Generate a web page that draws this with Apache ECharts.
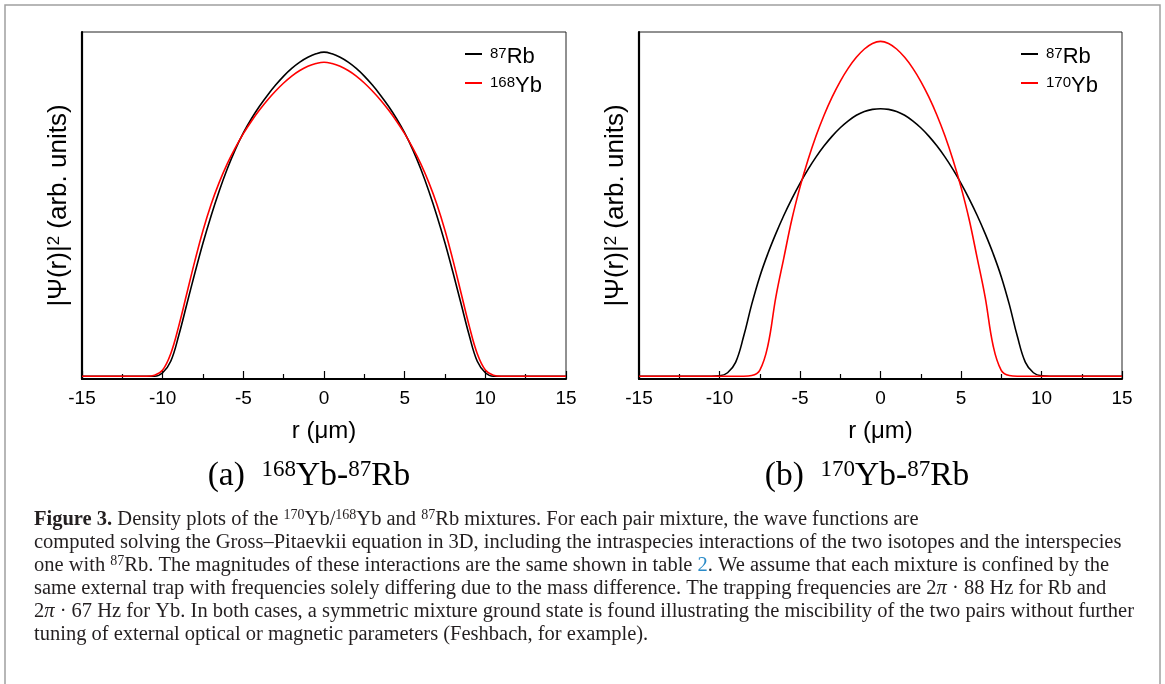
<!DOCTYPE html>
<html><head><meta charset="utf-8">
<script src="https://cdn.jsdelivr.net/npm/echarts@6/dist/echarts.min.js"></script>
<style>html,body{margin:0;padding:0;background:#fff}#c{width:1165px;height:684px}</style>
</head><body><div id="c"></div>
<script>
// radial position r (µm)
const r = [-15,-14,-13,-12,-11,-10.5,-10,-9.5,-9,-8.5,-8,-7.5,-7,-6.5,-6,-5.5,-5,-4.5,-4,-3.5,-3,-2.5,-2,-1.5,-1,-0.5,0,
  0.5,1,1.5,2,2.5,3,3.5,4,4.5,5,5.5,6,6.5,7,7.5,8,8.5,9,9.5,10,10.5,11,12,13,14,15];
// panel (a): 168Yb-87Rb
const rb87_a = [0.008,0.008,0.008,0.008,0.008,0.008,0.018,0.051,0.126,0.216,0.306,0.392,0.470,0.541,0.605,0.661,0.709,0.750,0.786,0.818,0.847,0.873,0.895,0.913,0.927,0.937,0.942,
  0.937,0.927,0.913,0.895,0.873,0.847,0.818,0.786,0.750,0.709,0.661,0.605,0.541,0.470,0.392,0.306,0.216,0.126,0.051,0.018,0.008,0.008,0.008,0.008,0.008,0.008];
const yb168_a = [0.008,0.008,0.008,0.008,0.008,0.011,0.026,0.073,0.153,0.247,0.341,0.428,0.503,0.566,0.620,0.666,0.707,0.743,0.775,0.804,0.830,0.853,0.873,0.889,0.901,0.909,0.913,
  0.909,0.901,0.889,0.873,0.853,0.830,0.804,0.775,0.743,0.707,0.666,0.620,0.566,0.503,0.428,0.341,0.247,0.153,0.073,0.026,0.011,0.008,0.008,0.008,0.008,0.008];
// panel (b): 170Yb-87Rb
const rb87_b = [0.008,0.008,0.008,0.008,0.008,0.008,0.009,0.018,0.048,0.123,0.215,0.295,0.361,0.419,0.472,0.520,0.564,0.604,0.640,0.672,0.700,0.724,0.744,0.760,0.771,0.777,0.779,
  0.777,0.771,0.760,0.744,0.724,0.700,0.672,0.640,0.604,0.564,0.520,0.472,0.419,0.361,0.295,0.215,0.123,0.048,0.018,0.009,0.008,0.008,0.008,0.008,0.008,0.008];
const yb170_b = [0.008,0.008,0.008,0.008,0.008,0.008,0.008,0.008,0.008,0.008,0.010,0.025,0.095,0.236,0.350,0.461,0.553,0.632,0.701,0.761,0.813,0.858,0.896,0.927,0.951,0.967,0.973,
  0.967,0.951,0.927,0.896,0.858,0.813,0.761,0.701,0.632,0.553,0.461,0.350,0.236,0.095,0.025,0.010,0.008,0.008,0.008,0.008,0.008,0.008,0.008,0.008,0.008,0.008];
const xTickMin = -15, xTickMax = 15, xTickStep = 5;
const legendA = ['Rb87a','Yb168'];
const legendB = ['Rb87b','Yb170'];
const legendText = {Rb87a:'{s|87}{m|Rb}', Yb168:'{s|168}{m|Yb}', Rb87b:'{s|87}{m|Rb}', Yb170:'{s|170}{m|Yb}'};

const SANS = 'Liberation Sans', SERIF = 'Liberation Serif';
const chart = echarts.init(document.getElementById('c'), null, {renderer:'canvas'});

function xAx(g){
  return {type:'value', gridIndex:g, min:xTickMin, max:xTickMax, interval:xTickStep,
    axisLine:{show:true, onZero:false, lineStyle:{color:'#000', width:2.2}},
    axisTick:{show:true, inside:true, length:8, lineStyle:{color:'#000', width:1.2}},
    minorTick:{show:true, splitNumber:2, length:5, lineStyle:{color:'#000', width:1.2}},
    splitLine:{show:false}, minorSplitLine:{show:false},
    axisLabel:{color:'#000', fontSize:19, fontFamily:SANS, margin:10},
    name:'r (μm)', nameLocation:'middle', nameGap:40,
    nameTextStyle:{color:'#000', fontSize:24, fontFamily:SANS}};
}
function yAx(g){
  return {type:'value', gridIndex:g, min:0, max:1,
    axisLine:{show:true, onZero:false, lineStyle:{color:'#000', width:2.2}},
    axisTick:{show:false}, axisLabel:{show:false}, splitLine:{show:false},
    name:'{m||Ψ(r)|}{s|2}{m| (arb. units)}', nameLocation:'middle', nameRotate:90, nameGap:10,
    nameTextStyle:{color:'#000', fontSize:26, fontFamily:SANS,
      rich:{m:{fontSize:26, fontFamily:SANS, color:'#000', lineHeight:26},
            s:{fontSize:17, fontFamily:SANS, color:'#000', lineHeight:8, verticalAlign:'top'}}}};
}
function ser(name, g, vals, color){
  return {name, type:'line', xAxisIndex:g, yAxisIndex:g, color,
    data: r.map((x,i)=>[x, vals[i]]), showSymbol:false, symbol:'none', smooth:0.4,
    lineStyle:{color, width:1.6}, itemStyle:{color}, silent:true, animation:false};
}
function leg(names, left){
  return {data:names, left, top:46, orient:'vertical', icon:'rect', itemWidth:17, itemHeight:2,
    itemGap:7, padding:0, selectedMode:false,
    formatter:(n)=>legendText[n],
    textStyle:{color:'#000', fontSize:22, fontFamily:SANS, padding:[6,0,0,3],
      rich:{m:{fontSize:22, fontFamily:SANS, color:'#000', lineHeight:22},
            s:{fontSize:15, fontFamily:SANS, color:'#000', lineHeight:6, verticalAlign:'top'}}}};
}

const CF = 20.5;
const capRich = {
  b:{fontSize:CF, fontFamily:SERIF, fontWeight:'bold', fill:'#231f20', lineHeight:23},
  s:{fontSize:14, fontFamily:SERIF, fill:'#231f20', lineHeight:12, verticalAlign:'top'},
  i:{fontSize:CF, fontFamily:SERIF, fontStyle:'italic', fill:'#231f20', lineHeight:23},
  l:{fontSize:CF, fontFamily:SERIF, fill:'#2a8bc8', lineHeight:23}
};
const caption = [
  '{b|Figure 3.} Density plots of the {s|170}Yb/{s|168}Yb and {s|87}Rb mixtures. For each pair mixture, the wave functions are',
  'computed solving the Gross–Pitaevkii equation in 3D, including the intraspecies interactions of the two isotopes and the interspecies',
  'one with {s|87}Rb. The magnitudes of these interactions are the same shown in table {l|2}. We assume that each mixture is confined by the',
  'same external trap with frequencies solely differing due to the mass difference. The trapping frequencies are 2{i|π} · 88 Hz for Rb and',
  '2{i|π} · 67 Hz for Yb. In both cases, a symmetric mixture ground state is found illustrating the miscibility of the two pairs without further',
  'tuning of external optical or magnetic parameters (Feshbach, for example).'
].join('\n');
const subRich = {
  m:{fontSize:33.5, fontFamily:SERIF, fill:'#000', lineHeight:36},
  s:{fontSize:23, fontFamily:SERIF, fill:'#000', lineHeight:14, verticalAlign:'top'}
};

chart.setOption({
  animation:false,
  backgroundColor:'#fff',
  grid:[
    {left:82, top:32, width:484, height:347, show:true, borderColor:'#222', borderWidth:1, backgroundColor:'transparent'},
    {left:639, top:32, width:483, height:347, show:true, borderColor:'#222', borderWidth:1, backgroundColor:'transparent'}
  ],
  xAxis:[xAx(0), xAx(1)],
  yAxis:[yAx(0), yAx(1)],
  legend:[leg(legendA, 465), leg(legendB, 1021)],
  series:[
    ser('Rb87a', 0, rb87_a, '#000000'),
    ser('Yb168', 0, yb168_a, '#ff0000'),
    ser('Rb87b', 1, rb87_b, '#000000'),
    ser('Yb170', 1, yb170_b, '#ff0000')
  ],
  graphic:[
    {type:'rect', shape:{x:5, y:5, width:1155, height:700}, style:{fill:'none', stroke:'#a0a0a0', lineWidth:1.5}, silent:true},
    {type:'text', x:309, y:476, style:{text:'{m|(a)  }{s|168}{m|Yb-}{s|87}{m|Rb}', align:'center', verticalAlign:'middle', rich:subRich, fontSize:33.5, fontFamily:SERIF, fill:'#000'}},
    {type:'text', x:867, y:476, style:{text:'{m|(b)  }{s|170}{m|Yb-}{s|87}{m|Rb}', align:'center', verticalAlign:'middle', rich:subRich, fontSize:33.5, fontFamily:SERIF, fill:'#000'}},
    {type:'text', x:34, y:508, style:{text:caption, align:'left', verticalAlign:'top', rich:capRich, fontSize:CF, fontFamily:SERIF, fill:'#231f20', lineHeight:23}}
  ]
});
</script></body></html>
